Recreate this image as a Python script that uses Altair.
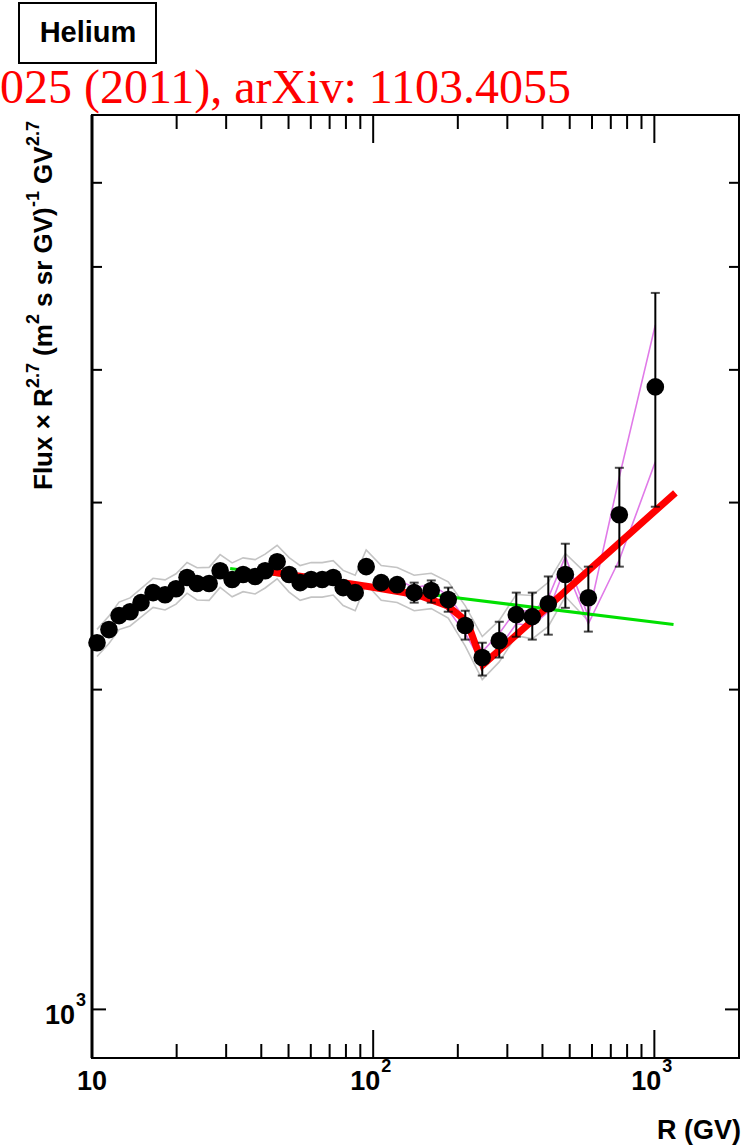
import altair as alt
import pandas as pd

# ---------------- data ----------------
R = [10.42, 11.49, 12.48, 13.66, 14.94, 16.49, 18.19, 19.90, 21.78, 23.64,
     26.09, 28.55, 31.50, 34.46, 38.03, 41.28, 45.54, 50.24, 54.98, 60.17,
     65.86, 72.06, 78.21, 86.30, 94.43, 106.8, 121.7, 139.9, 160.9, 184.9,
     212.6, 244.3, 280.8, 322.8, 368.0, 419.6, 482.4, 582.4, 750.7, 1008]
flux = [2214, 2278, 2348, 2368, 2415, 2468, 2457, 2489, 2550, 2517,
        2517, 2588, 2539, 2567, 2556, 2588, 2639, 2567, 2522, 2539,
        2539, 2550, 2495, 2468, 2611, 2522, 2511, 2468, 2479, 2431,
        2298, 2144, 2224, 2353, 2343, 2409, 2567, 2441, 2922, 3855]

# statistical error bars (visible ones)
err_R = [139.9, 160.9, 184.9, 212.6, 244.3, 280.8, 322.8, 368.0, 419.6, 482.4, 582.4, 750.7, 1008]
err_lo = [2415, 2415, 2368, 2229, 2062, 2144, 2243, 2229, 2253, 2388, 2268, 2611, 2973]
err_hi = [2522, 2534, 2495, 2373, 2214, 2317, 2468, 2468, 2556, 2744, 2611, 3235, 4726]

# grey systematic band (absolute half width, first 38 points)
sys_err = [65, 68, 70, 72, 75, 78, 80, 82, 85, 88, 90, 92, 93, 94, 95, 95, 96, 96, 95, 95,
           95, 95, 95, 95, 96, 95, 95, 95, 95, 95, 100, 100, 100, 105, 110, 115, 120, 120]

# magenta band
mag_R = [121.7, 139.9, 160.9, 184.9, 212.6, 244.3, 280.8, 322.8, 368.0, 419.6, 482.4, 582.4, 750.7, 1008]
mag_hi = [2539, 2495, 2511, 2452, 2328, 2172, 2259, 2378, 2368, 2441, 2668, 2343, 3172, 4410]
mag_lo = [2473, 2431, 2441, 2378, 2259, 2116, 2191, 2307, 2298, 2368, 2611, 2307, 2650, 3277]

# fit lines
red_R = [43.0, 97.2, 143.4, 183.4, 216.1, 245.3, 1188]
red_f = [2582, 2500, 2457, 2399, 2317, 2110, 3064]
green_R = [31.0, 185, 1170]
green_f = [2600, 2446, 2303]

# axis ticks and labels
x_major = [10, 100, 1000]
x_minor = [20, 30, 40, 50, 60, 70, 80, 90, 200, 300, 400, 500, 600, 700, 800, 900]
y_major = [1000]
y_minor = [2000, 3000, 4000, 5000, 6000]
x_lab_plain_v, x_lab_plain_t = [10], ["10"]
x_lab_pow_v, x_lab_pow_base, x_lab_pow_sup = [100, 1000], ["10", "10"], ["2", "3"]
y_lab_v, y_lab_base, y_lab_sup = [1000], ["10"], ["3"]

# y title pieces: (text, is_superscript, start position from plot top)
ytitle_parts = [("Flux × R", False, 375), ("2.7", True, 273), ("(m", False, 241),
                ("2", True, 209), ("s sr GV)", False, 192), ("-1", True, 92),
                ("GV", False, 69), ("2.7", True, 31)]

# ---------------- chart ----------------
W, H = 647, 943
xs = alt.Scale(type="log", domain=[10, 2000], nice=False)
ys = alt.Scale(type="log", domain=[900, 6950], nice=False)
FONT = "Liberation Sans"


def X(field):
    return alt.X(field, type="quantitative", scale=xs, axis=None)


def Y(field):
    return alt.Y(field, type="quantitative", scale=ys, axis=None)


pts = pd.DataFrame({"R": R, "f": flux})
band = pd.DataFrame({
    "R": R[:len(sys_err)] * 2,
    "f": [f + s for f, s in zip(flux, sys_err)] + [f - s for f, s in zip(flux, sys_err)],
    "side": ["hi"] * len(sys_err) + ["lo"] * len(sys_err),
})
mag = pd.DataFrame({
    "R": mag_R * 2,
    "f": mag_hi + mag_lo,
    "side": ["hi"] * len(mag_R) + ["lo"] * len(mag_R),
})
err = pd.DataFrame({"R": err_R, "lo": err_lo, "hi": err_hi})
red = pd.DataFrame({"R": red_R, "f": red_f})
green = pd.DataFrame({"R": green_R, "f": green_f})

grey_lines = alt.Chart(band).mark_line(color="#c4c4c4", strokeWidth=1.6).encode(
    x=X("R"), y=Y("f"), detail="side:N")
mag_lines = alt.Chart(mag).mark_line(color="#e07ae8", strokeWidth=1.6).encode(
    x=X("R"), y=Y("f"), detail="side:N")
green_line = alt.Chart(green).mark_line(color="#00e000", strokeWidth=3).encode(
    x=X("R"), y=Y("f"))
red_line = alt.Chart(red).mark_line(color="#ff0000", strokeWidth=7).encode(
    x=X("R"), y=Y("f"))
err_rules = alt.Chart(err).mark_rule(color="black", strokeWidth=2).encode(
    x=X("R"), y=Y("lo"), y2="hi")
cap_lo = alt.Chart(err).mark_tick(color="black", orient="horizontal", size=9, thickness=2).encode(
    x=X("R"), y=Y("lo"))
cap_hi = alt.Chart(err).mark_tick(color="black", orient="horizontal", size=9, thickness=2).encode(
    x=X("R"), y=Y("hi"))
dots = alt.Chart(pts).mark_circle(color="black", opacity=1, size=310).encode(
    x=X("R"), y=Y("f"))

one = pd.DataFrame({"t": ["Helium"]})
xmaj = pd.DataFrame({"v": x_major})
xmin = pd.DataFrame({"v": x_minor})
ymaj = pd.DataFrame({"v": y_major})
ymin = pd.DataFrame({"v": y_minor})
tk = dict(color="black", strokeWidth=2)
ticks = [
    alt.Chart(one).mark_rule(color="black", strokeWidth=3).encode(
        x=alt.value(0), y=alt.value(0), y2=alt.value(H)),
    alt.Chart(xmaj).mark_rule(**tk).encode(x=X("v"), y=alt.value(H), y2=alt.value(H - 28)),
    alt.Chart(xmaj).mark_rule(**tk).encode(x=X("v"), y=alt.value(0), y2=alt.value(28)),
    alt.Chart(xmin).mark_rule(**tk).encode(x=X("v"), y=alt.value(H), y2=alt.value(H - 14)),
    alt.Chart(xmin).mark_rule(**tk).encode(x=X("v"), y=alt.value(0), y2=alt.value(14)),
    alt.Chart(ymaj).mark_rule(**tk).encode(y=Y("v"), x=alt.value(0), x2=alt.value(14)),
    alt.Chart(ymaj).mark_rule(**tk).encode(y=Y("v"), x=alt.value(W), x2=alt.value(W - 14)),
    alt.Chart(ymin).mark_rule(**tk).encode(y=Y("v"), x=alt.value(0), x2=alt.value(10)),
    alt.Chart(ymin).mark_rule(**tk).encode(y=Y("v"), x=alt.value(W), x2=alt.value(W - 10)),
]

lab = dict(font=FONT, fontWeight="bold", color="black")
labels = [
    alt.Chart(pd.DataFrame({"v": x_lab_plain_v, "t": x_lab_plain_t})).mark_text(
        fontSize=27, align="center", baseline="middle", **lab).encode(
        x=X("v"), y=alt.value(H + 24), text="t:N"),
    alt.Chart(pd.DataFrame({"v": x_lab_pow_v, "t": x_lab_pow_base})).mark_text(
        fontSize=27, align="right", baseline="middle", dx=7, **lab).encode(
        x=X("v"), y=alt.value(H + 24), text="t:N"),
    alt.Chart(pd.DataFrame({"v": x_lab_pow_v, "t": x_lab_pow_sup})).mark_text(
        fontSize=18, align="left", baseline="middle", dx=8, **lab).encode(
        x=X("v"), y=alt.value(H + 9), text="t:N"),
    alt.Chart(pd.DataFrame({"v": y_lab_v, "t": y_lab_base})).mark_text(
        fontSize=27, align="right", baseline="middle", dy=7, **lab).encode(
        x=alt.value(-17), y=Y("v"), text="t:N"),
    alt.Chart(pd.DataFrame({"v": y_lab_v, "t": y_lab_sup})).mark_text(
        fontSize=18, align="left", baseline="middle", dy=-8, **lab).encode(
        x=alt.value(-16), y=Y("v"), text="t:N"),
]

ytitle = []
for txt, sup, pos in ytitle_parts:
    ytitle.append(
        alt.Chart(pd.DataFrame({"t": [txt]})).mark_text(
            fontSize=18 if sup else 26, angle=270, align="left", baseline="alphabetic",
            **lab).encode(text="t:N", x=alt.value(-53 if sup else -40), y=alt.value(pos)))

box = alt.Chart(one).mark_rect(fill="white", stroke="black", strokeWidth=2).encode(
    x=alt.value(-73), x2=alt.value(64), y=alt.value(-112), y2=alt.value(-52))
helium = alt.Chart(one).mark_text(fontSize=29, align="center", baseline="middle", **lab).encode(
    text="t:N", x=alt.value(-4), y=alt.value(-82))
ref = alt.Chart(pd.DataFrame({"t": ["025 (2011), arXiv: 1103.4055"]})).mark_text(
    font="Liberation Serif", fontSize=48, color="#ff0000", align="left",
    baseline="alphabetic").encode(text="t:N", x=alt.value(-92), y=alt.value(-12))
xtitle = alt.Chart(pd.DataFrame({"t": ["R (GV)"]})).mark_text(
    fontSize=27, align="right", baseline="middle", **lab).encode(
    text="t:N", x=alt.value(W + 2), y=alt.value(H + 73))

chart = alt.layer(
    grey_lines, mag_lines, green_line, red_line, err_rules, cap_lo, cap_hi, dots,
    *ticks, *labels, *ytitle, box, helium, ref, xtitle,
).properties(
    width=W, height=H,
    autosize=alt.AutoSizeParams(type="none"),
    padding={"left": 92, "top": 115, "right": 6, "bottom": 89},
).configure_view(stroke="black", strokeWidth=2)

chart.save("out.html", embed_options={"renderer": "svg", "actions": False})
